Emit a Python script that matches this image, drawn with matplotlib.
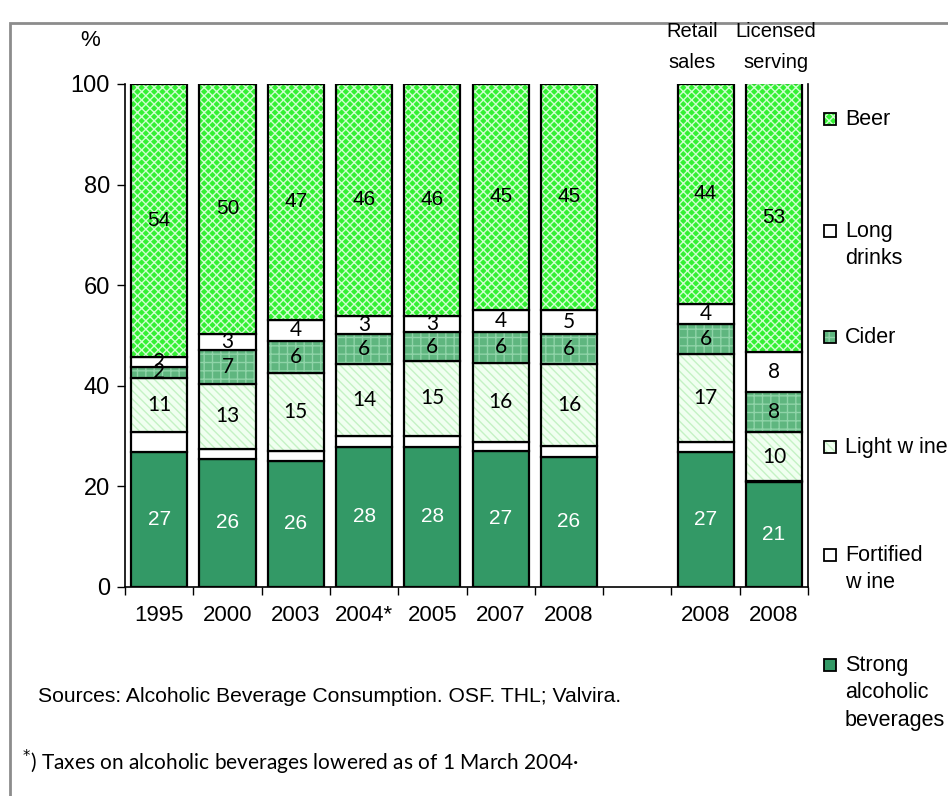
import numpy as np
import matplotlib
matplotlib.use("Agg")
import matplotlib.pyplot as plt
from matplotlib.patches import Rectangle

plt.rcParams['font.family'] = ['Liberation Sans', 'DejaVu Sans']
plt.rcParams['hatch.linewidth'] = 1.0

# categories (empty slot separates the years from the 2008 split)
cats = ['1995', '2000', '2003', '2004*', '2005', '2007', '2008', '', '2008', '2008']
slots = [0, 1, 2, 3, 4, 5, 6, 8, 9]

# segment heights, bottom to top
strong    = [26.8, 25.5, 25.1, 27.9, 27.9, 27.1, 25.9, 26.8, 20.9]
fortified = [4.0, 2.0, 2.0, 2.1, 2.1, 1.8, 2.2, 2.0, 0.1]
light     = [10.7, 12.8, 15.5, 14.3, 15.0, 15.7, 16.2, 17.5, 9.8]
cider     = [2.3, 6.8, 6.4, 6.0, 5.6, 6.1, 6.0, 5.9, 8.0]
longdr    = [2.0, 3.2, 4.1, 3.6, 3.3, 4.4, 4.8, 4.1, 8.0]
beer      = [54.2, 49.7, 46.9, 46.1, 46.1, 44.9, 44.9, 43.7, 53.3]

# printed values
strong_lab = [27, 26, 26, 28, 28, 27, 26, 27, 21]
light_lab  = [11, 13, 15, 14, 15, 16, 16, 17, 10]
cider_lab  = [2, 7, 6, 6, 6, 6, 6, 6, 8]
long_lab   = [2, 3, 4, 3, 3, 4, 5, 4, 8]
beer_lab   = [54, 50, 47, 46, 46, 45, 45, 44, 53]

series = [
    # name, values, labels, face, hatch, hatch colour, label colour, label font
    ('Strong\nalcoholic\nbeverages', strong, strong_lab, '#339966', None, '#339966', 'white', 'Liberation Sans'),
    ('Fortified\nw ine', fortified, None, 'white', None, 'white', 'black', 'Liberation Sans'),
    ('Light w ine', light, light_lab, '#f0fff0', '\\\\\\\\', '#c4f2c4', 'black', 'Lato'),
    ('Cider', cider, cider_lab, '#5fb67f', '++', '#8fd4a8', 'black', 'Lato'),
    ('Long\ndrinks', longdr, long_lab, 'white', None, 'white', 'black', 'Lato'),
    ('Beer', beer, beer_lab, '#33f033', 'xxxx', '#d0ffd0', 'black', 'Liberation Sans'),
]

fig = plt.figure(figsize=(9.48, 7.96), dpi=100)
ax = fig.add_axes([0.1319, 0.2626, 0.7205, 0.6319])

x = np.array(slots)
bottom = np.zeros(len(slots))
for name, vals, labs, face, hatch, hcol, tcol, tfont in series:
    vals = np.array(vals)
    ax.bar(x, vals, 0.82, bottom=bottom, color=face, hatch=hatch,
           edgecolor=hcol, linewidth=0)
    bars = ax.bar(x, vals, 0.82, bottom=bottom, fill=False,
                  edgecolor='black', linewidth=1.6)
    if labs is not None:
        ax.bar_label(bars, labels=[str(v) for v in labs], label_type='center',
                     color=tcol, fontsize=15, family=tfont)
    bottom = bottom + vals

ax.set_xlim(-0.5, 9.5)
ax.set_ylim(0, 100)
ax.set_yticks([0, 20, 40, 60, 80, 100])
ax.tick_params(axis='y', labelsize=17, length=6, width=1, pad=5)
ax.set_xticks(range(10))
ax.set_xticklabels(cats)
ax.set_xticks(np.arange(-0.5, 10, 1), minor=True)
ax.tick_params(axis='x', which='major', length=0, labelsize=16, pad=13)
ax.tick_params(axis='x', which='minor', length=6, width=1)
ax.spines['top'].set_visible(False)
for s in ['left', 'bottom', 'right']:
    ax.spines[s].set_linewidth(1.2)

# headers
fig.text(90 / 948, 1 - 40 / 796, '%', ha='center', va='center', fontsize=16)
fig.text(692 / 948, 1 - 47 / 796, 'Retail\nsales', ha='center', va='center',
         fontsize=14.5, linespacing=1.75)
fig.text(776 / 948, 1 - 47 / 796, 'Licensed\nserving', ha='center', va='center',
         fontsize=14.5, linespacing=1.75)

# legend drawn by hand, top to bottom
leg_y = [119, 231, 337, 447, 555, 665]
for (name, vals, labs, face, hatch, hcol, tcol, tfont), yy in zip(series[::-1], leg_y):
    fy = 1 - yy / 796
    w, h = 12 / 948, 12 / 796
    fig.patches.append(Rectangle((824 / 948, fy - h / 2), w, h, transform=fig.transFigure,
                                 facecolor=face, hatch=hatch, edgecolor=hcol, linewidth=0))
    fig.patches.append(Rectangle((824 / 948, fy - h / 2), w, h, transform=fig.transFigure,
                                 fill=False, edgecolor='black', linewidth=1.3))
    fig.text(845 / 948, fy + 10 / 796, name, ha='left', va='top', fontsize=15.5,
             linespacing=1.4)

fig.text(38 / 948, 1 - 697 / 796,
         'Sources: Alcoholic Beverage Consumption. OSF. THL; Valvira.',
         ha='left', va='center', fontsize=15.2)
fig.text(22 / 948, 1 - 762 / 796,
         r'$^{*}$) Taxes on alcoholic beverages lowered as of 1 March 2004·',
         ha='left', va='center', fontsize=15, family='Lato')

# grey outer frame, running off the right and bottom edges
fig.patches.append(Rectangle((10 / 948, -0.05), 1.2, 1 - 23 / 796 + 0.05,
                             transform=fig.transFigure, fill=False,
                             edgecolor='#8c8c8c', linewidth=2))

fig.savefig('out.png', dpi=100)
